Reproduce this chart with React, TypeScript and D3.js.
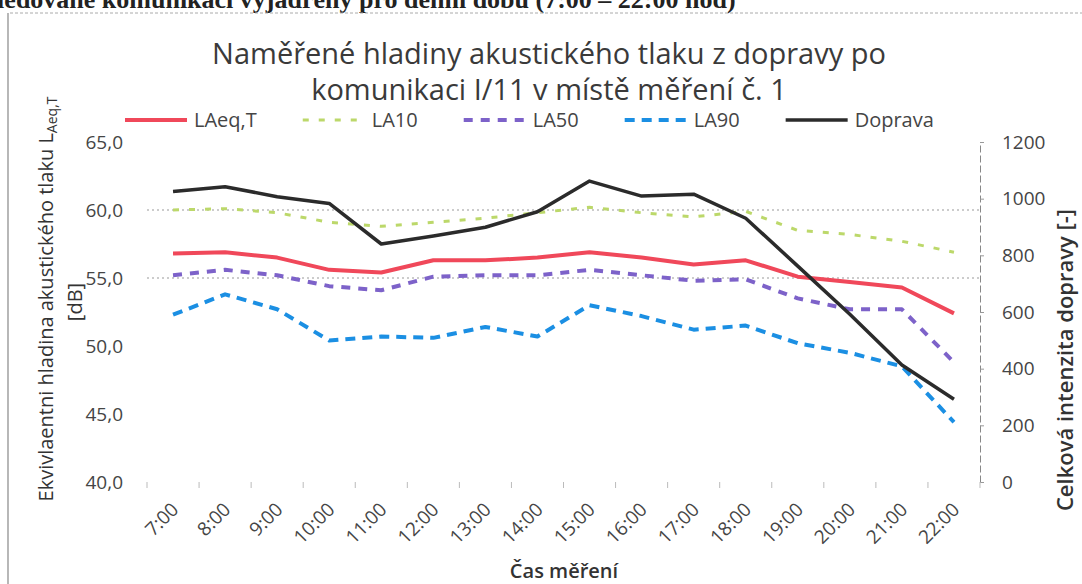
import * as d3 from "d3";
import { useEffect, useRef } from "react";

const hours = [
    "7:00", "8:00", "9:00", "10:00", "11:00", "12:00", "13:00", "14:00",
    "15:00", "16:00", "17:00", "18:00", "19:00", "20:00", "21:00", "22:00",
];
const laeq = [56.8, 56.9, 56.5, 55.6, 55.4, 56.3, 56.3, 56.5, 56.9, 56.5, 56.0, 56.3, 55.1, 54.7, 54.3, 52.4];
const la10 = [60.0, 60.1, 59.8, 59.1, 58.8, 59.1, 59.4, 59.8, 60.2, 59.8, 59.5, 59.9, 58.5, 58.2, 57.7, 56.9];
const la50 = [55.2, 55.6, 55.2, 54.4, 54.1, 55.1, 55.2, 55.2, 55.6, 55.2, 54.8, 54.9, 53.5, 52.7, 52.7, 48.8];
const la90 = [52.3, 53.8, 52.7, 50.4, 50.7, 50.6, 51.4, 50.7, 53.0, 52.2, 51.2, 51.5, 50.2, 49.5, 48.5, 44.4];
const doprava = [1025, 1042, 1007, 983, 840, 868, 899, 954, 1062, 1009, 1016, 931, 762, 592, 413, 292];

const leftTicks = [40, 45, 50, 55, 60, 65];
const rightTicks = [0, 200, 400, 600, 800, 1000, 1200];
const gridTicks = [55, 60];

const titleLines = [
    "Naměřené hladiny akustického tlaku z dopravy po",
    "komunikaci I/11 v místě měření č. 1",
];

export default function App() {
    const ref = useRef<SVGSVGElement | null>(null);

    useEffect(() => {
        if (!ref.current) return;
        const svg = d3.select(ref.current);
        svg.selectAll("*").remove();

        const width = 1082;
        const height = 584;
        const plot = { left: 147, right: 980, top: 142, bottom: 482 };
        const font = "'Open Sans', sans-serif";
        const textColor = "#454545";

        const x = d3.scaleBand<string>().domain(hours).range([plot.left, plot.right]);
        const cx = (h: string) => x(h)! + x.bandwidth() / 2;
        const yL = d3.scaleLinear().domain([40, 65]).range([plot.bottom, plot.top]);
        const yR = d3.scaleLinear().domain([0, 1200]).range([plot.bottom, plot.top]);

        svg.append("rect").attr("width", width).attr("height", height).attr("fill", "#fff");

        // cut-off caption of the surrounding document
        svg.append("text")
            .attr("x", -13)
            .attr("y", 8)
            .attr("font-family", "'Liberation Serif', serif")
            .attr("font-weight", "bold")
            .attr("font-size", 26)
            .attr("fill", "#222")
            .text("sledované komunikaci vyjádřený pro denní dobu (7:00 – 22:00 hod)");

        // chart frame
        svg.append("line")
            .attr("x1", 10).attr("x2", width).attr("y1", 13).attr("y2", 13)
            .attr("stroke", "#aaa").attr("stroke-dasharray", "3 2");
        svg.append("line")
            .attr("x1", 8).attr("x2", 8).attr("y1", 13).attr("y2", height)
            .attr("stroke", "#888").attr("stroke-width", 1.2);

        // gridlines
        svg.append("g")
            .selectAll("line")
            .data(gridTicks)
            .join("line")
            .attr("x1", plot.left).attr("x2", plot.right)
            .attr("y1", (d) => yL(d)).attr("y2", (d) => yL(d))
            .attr("stroke", "#999").attr("stroke-dasharray", "2 3");

        // left axis
        const gLeft = svg.append("g")
            .attr("transform", `translate(${plot.left - 24},0)`)
            .call(
                d3.axisLeft(yL)
                    .tickValues(leftTicks)
                    .tickSize(0)
                    .tickPadding(0)
                    .tickFormat((d) => d3.format(".1f")(d as number).replace(".", ",")),
            );
        gLeft.select(".domain").remove();
        gLeft.selectAll("text")
            .attr("font-family", font).attr("font-size", 19).attr("fill", textColor);

        // right axis
        const gRight = svg.append("g")
            .attr("transform", `translate(${plot.right},0)`)
            .call(
                d3.axisRight(yR)
                    .tickValues(rightTicks)
                    .tickSizeInner(4)
                    .tickSizeOuter(0)
                    .tickPadding(18)
                    .tickFormat((d) => `${d}`),
            );
        gRight.select(".domain").attr("stroke", "#888").attr("stroke-dasharray", "7 3");
        gRight.selectAll("line").attr("stroke", "#999");
        gRight.selectAll("text")
            .attr("font-family", font).attr("font-size", 19).attr("fill", textColor);

        // category axis: ticks between categories
        const bounds = d3.range(hours.length + 1).map((i) => plot.left + i * x.bandwidth());
        svg.append("g")
            .selectAll("line")
            .data(bounds)
            .join("line")
            .attr("x1", (d) => d).attr("x2", (d) => d)
            .attr("y1", plot.bottom).attr("y2", plot.bottom + 6)
            .attr("stroke", "#bbb");
        svg.append("g")
            .selectAll("text")
            .data(hours)
            .join("text")
            .attr("transform", (d) => `translate(${cx(d) + 2},${plot.bottom + 24}) rotate(-45)`)
            .attr("text-anchor", "end")
            .attr("dy", "0.35em")
            .attr("font-family", font).attr("font-size", 19).attr("fill", textColor)
            .text((d) => d);

        // series
        const series = [
            { name: "LAeq,T", values: laeq, color: "#f0485a", width: 4, dash: null, axis: yL },
            { name: "LA10", values: la10, color: "#bcd86a", width: 3, dash: "6 10", axis: yL },
            { name: "LA50", values: la50, color: "#7d62c9", width: 4, dash: "9 8", axis: yL },
            { name: "LA90", values: la90, color: "#1b8fe3", width: 4, dash: "10 7", axis: yL },
            { name: "Doprava", values: doprava, color: "#2b2b2b", width: 3.5, dash: null, axis: yR },
        ];

        for (const s of series) {
            const line = d3.line<number>()
                .x((_, i) => cx(hours[i]))
                .y((d) => s.axis(d));
            svg.append("path")
                .datum(s.values)
                .attr("fill", "none")
                .attr("stroke", s.color)
                .attr("stroke-width", s.width)
                .attr("stroke-dasharray", s.dash)
                .attr("stroke-linejoin", "round")
                .attr("d", line);
        }

        // title
        svg.append("g")
            .selectAll("text")
            .data(titleLines)
            .join("text")
            .attr("x", 549)
            .attr("y", (_, i) => 64 + i * 36)
            .attr("text-anchor", "middle")
            .attr("font-family", font).attr("font-size", 29).attr("fill", "#3a3a3a")
            .text((d) => d);

        // legend
        let lx = 125;
        const ly = 120;
        for (const s of series) {
            svg.append("line")
                .attr("x1", lx).attr("x2", lx + 62).attr("y1", ly).attr("y2", ly)
                .attr("stroke", s.color)
                .attr("stroke-width", s.width)
                .attr("stroke-dasharray", s.dash);
            const t = svg.append("text")
                .attr("x", lx + 69).attr("y", ly + 7)
                .attr("font-family", font).attr("font-size", 20).attr("fill", textColor)
                .text(s.name);
            lx += 69 + (t.node() as SVGTextElement).getComputedTextLength() + 46;
        }

        // left axis title
        const lt = svg.append("text")
            .attr("transform", "translate(53,299) rotate(-90)")
            .attr("text-anchor", "middle")
            .attr("font-family", font).attr("font-size", 20).attr("fill", "#333");
        lt.append("tspan").text("Ekvivlaentni hladina akustického tlaku L");
        lt.append("tspan").attr("font-size", 14).attr("dy", 4).text("Aeq,T");
        svg.append("text")
            .attr("transform", "translate(82,302) rotate(-90)")
            .attr("text-anchor", "middle")
            .attr("font-family", font).attr("font-size", 20).attr("fill", "#333")
            .text("[dB]");

        // right axis title
        svg.append("text")
            .attr("transform", "translate(1073,360) rotate(-90)")
            .attr("text-anchor", "middle")
            .attr("font-family", font).attr("font-size", 22).attr("font-weight", 600).attr("fill", "#333")
            .text("Celková intenzita dopravy [-]");

        // x axis title
        svg.append("text")
            .attr("x", 564).attr("y", 578)
            .attr("text-anchor", "middle")
            .attr("font-family", font).attr("font-size", 20).attr("font-weight", 600).attr("fill", "#333")
            .text("Čas měření");
    }, []);

    return (
        <svg
            ref={ref}
            width={1082}
            height={584}
            style={{ position: "absolute", left: 0, top: 0, display: "block" }}
        />
    );
}
